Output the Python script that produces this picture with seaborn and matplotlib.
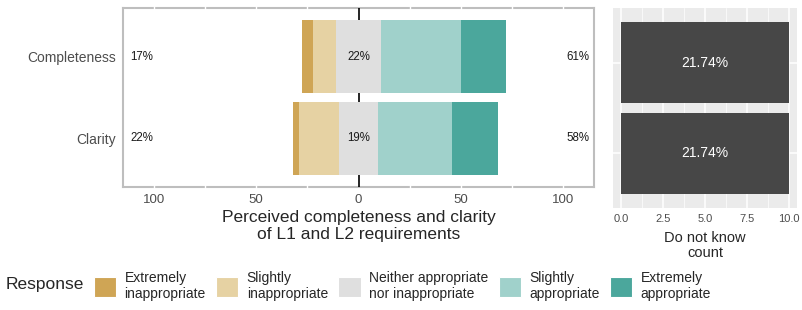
import pandas as pd
import seaborn as sns
import matplotlib.pyplot as plt
from matplotlib.patches import Patch

sns.set_style('white')
plt.rcParams['font.family'] = ['Liberation Sans', 'DejaVu Sans']

# data (percent of answers per item)
items = ['Completeness', 'Clarity']
responses = ['Extremely\ninappropriate', 'Slightly\ninappropriate',
             'Neither appropriate\nnor inappropriate', 'Slightly\nappropriate',
             'Extremely\nappropriate']
ext_inapp = [5.6, 2.8]
sl_inapp = [11.1, 19.4]
neutral = [22.2, 19.4]
sl_app = [38.9, 36.1]
ext_app = [22.2, 22.2]

dont_know_count = [10, 10]
dont_know_pct = [21.74, 21.74]

colors = ['#CFA555', '#E6D2A3', '#DFDFDF', '#A0D1CB', '#4BA79C']

df = pd.DataFrame({'item': items, 'ext_inapp': ext_inapp, 'sl_inapp': sl_inapp,
                   'neutral': neutral, 'sl_app': sl_app, 'ext_app': ext_app})
# cumulative ends of the diverging bars
df['r1'] = df.neutral / 2
df['r2'] = df.r1 + df.sl_app
df['r3'] = df.r2 + df.ext_app
df['l1'] = -df.neutral / 2
df['l2'] = df.l1 - df.sl_inapp
df['l3'] = df.l2 - df.ext_inapp

fig = plt.figure(figsize=(8.03, 3.10), dpi=100)
ax = fig.add_axes([123/803, 1-187/310, (594-123)/803, (187-8)/310])
ax2 = fig.add_axes([613/803, 1-208/310, (797-613)/803, 200/310])

# left: likert bars, drawn largest first so they overlap like a stack
layers = [('r3', colors[4]), ('r2', colors[3]), ('r1', colors[2]),
          ('l3', colors[0]), ('l2', colors[1]), ('l1', colors[2])]
for col, c in layers:
    sns.barplot(data=df, x=col, y='item', order=items, orient='h', color=c,
                saturation=1, width=0.9, linewidth=0, errorbar=None, ax=ax, zorder=2)

ax.axvline(0, color='black', lw=1.2, zorder=1)
# white grid lines only show where they cross the grey frame
for v in [-100, -75, -50, -25, 25, 50, 75, 100]:
    ax.axvline(v, color='white', lw=1.0, zorder=0.6, clip_on=False, ymin=-0.01, ymax=1.01)

for i, row in df.iterrows():
    low = round(row.ext_inapp + row.sl_inapp)
    high = round(row.sl_app + row.ext_app)
    ax.text(-106, i, f'{low}%', ha='center', va='center', fontsize=8.3, color='#1A1A1A', zorder=3)
    ax.text(0, i, f'{round(row.neutral)}%', ha='center', va='center', fontsize=8.3, color='#1A1A1A', zorder=3)
    ax.text(107, i, f'{high}%', ha='center', va='center', fontsize=8.3, color='#1A1A1A', zorder=3)

ax.set_xlim(-115, 115)
ax.set_ylim(1.6, -0.6)
ax.set_xticks([-100, -50, 0, 50, 100])
ax.set_xticklabels(['100', '50', '0', '50', '100'])
ax.tick_params(axis='both', length=0, labelsize=9.5, labelcolor='#4D4D4D', pad=5)
ax.tick_params(axis='y', labelsize=10, pad=5)
ax.set_ylabel('')
ax.set_xlabel('Perceived completeness and clarity\nof L1 and L2 requirements',
              fontsize=12.5, labelpad=3, linespacing=1.15)
for s in ax.spines.values():
    s.set_color('#BEBEBE')
    s.set_linewidth(1.5)
    s.set_zorder(0.5)

# right: do not know counts
ax2.set_facecolor('#EBEBEB')
ax2.set_axisbelow(True)
dk = pd.DataFrame({'item': items, 'count': dont_know_count, 'pct': dont_know_pct})
sns.barplot(data=dk, x='count', y='item', order=items, orient='h', color='#474747',
            saturation=1, width=0.9, linewidth=0, errorbar=None, ax=ax2)
for i, row in dk.iterrows():
    ax2.text(row['count'] / 2, i, f"{row['pct']:.2f}%", ha='center', va='center',
             fontsize=10, color='white')
ax2.set_xlim(-0.5, 10.5)
ax2.set_ylim(1.6, -0.6)
ax2.set_xticks([0, 2.5, 5, 7.5, 10])
ax2.set_xticklabels(['0.0', '2.5', '5.0', '7.5', '10.0'])
ax2.set_xticks([1.25, 3.75, 6.25, 8.75], minor=True)
ax2.grid(which='major', color='white', lw=1.1)
ax2.grid(which='minor', axis='x', color='white', lw=0.5)
ax2.set_yticklabels([])
ax2.tick_params(axis='y', length=0)
ax2.tick_params(axis='x', which='major', length=3, width=0.8, color='#333333',
                labelsize=8, labelcolor='#4D4D4D', pad=1.5)
ax2.tick_params(axis='x', which='minor', length=0)
ax2.set_ylabel('')
ax2.set_xlabel('Do not know\ncount', fontsize=10.5, labelpad=5, linespacing=1.05)
for s in ax2.spines.values():
    s.set_visible(False)

# legend
fig.text(6/803, 1-284/310, 'Response', fontsize=12.5, va='center', ha='left')
handles = [Patch(facecolor=c, edgecolor='white', lw=0.8) for c in colors]
fig.legend(handles, responses, ncol=5, loc='center left', bbox_to_anchor=(94/803, 1-286/310),
           frameon=False, fontsize=10, handlelength=1.6, handleheight=1.8,
           handletextpad=0.6, columnspacing=0.75, borderpad=0, borderaxespad=0)

plt.savefig('out.png', dpi=100)
